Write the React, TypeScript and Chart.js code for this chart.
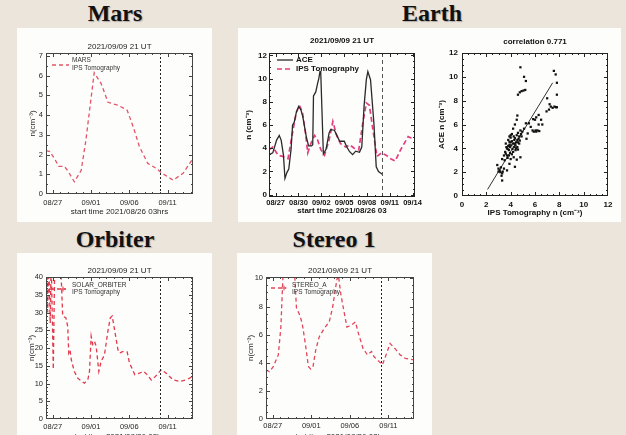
import React, { useEffect, useRef } from "react";
import { Chart, registerables } from "chart.js";
Chart.register(...registerables);

const SANS = "'Liberation Sans', Arial, sans-serif";

// ---------------- data (x = days since 2021/08/26 03 UT) ----------------
const marsDays = [0, 0.5, 1.1, 1.66, 2.4, 2.8, 3.7, 4.6, 5.2, 5.9, 6.3, 7.2, 8.1, 9.4, 10.6, 11.4, 12.2, 13.3, 14.4, 15.1, 16.6, 17.9, 19.2];
const marsN = [2.2, 2.15, 1.8, 1.4, 1.4, 1.2, 0.62, 1.2, 2.7, 4.9, 6.15, 5.6, 4.65, 4.5, 4.25, 3.4, 2.4, 1.55, 1.3, 1.07, 0.7, 1.05, 1.8];

const aceDays = [0, 0.5, 1.0, 1.35, 1.6, 1.9, 2.1, 2.35, 2.6, 2.9, 3.1, 3.3, 3.6, 3.9, 4.2, 4.45, 4.9, 5.2, 5.6, 5.75, 5.85, 6.15, 6.4, 6.55, 6.7, 6.8, 7.15, 7.5, 7.9, 8.1, 8.6, 9.0, 9.3, 9.9, 10.2, 10.6, 11.0, 11.4, 11.9, 12.2, 12.5, 12.8, 13.0, 13.35, 13.8, 14.1, 14.4, 14.9];
const aceN = [3.45, 3.6, 4.7, 5.1, 4.7, 3.4, 1.4, 1.9, 2.2, 3.9, 6.0, 6.2, 7.1, 7.6, 7.3, 6.7, 5.0, 4.2, 4.2, 4.3, 8.5, 8.85, 9.6, 10.0, 10.6, 10.6, 3.5, 3.9, 5.3, 5.6, 5.55, 5.0, 4.6, 4.6, 4.15, 3.7, 3.45, 3.75, 3.65, 4.1, 7.6, 9.9, 10.6, 9.9, 6.1, 2.4, 2.0, 1.75];

const earthIpsDays = [0, 0.5, 1.2, 1.8, 2.5, 3.0, 3.6, 4.0, 4.4, 4.8, 5.1, 5.5, 6.0, 6.4, 6.8, 7.3, 7.9, 8.4, 8.9, 9.4, 10.1, 10.6, 11.2, 11.8, 12.3, 12.8, 13.2, 13.8, 14.2, 14.8, 15.4, 16.0, 16.6, 17.3, 18.3, 19.2];
const earthIpsN = [3.86, 4.1, 3.4, 3.3, 3.1, 5.0, 7.1, 7.7, 7.1, 5.3, 3.6, 4.4, 5.1, 4.7, 3.9, 3.4, 4.7, 6.3, 5.1, 4.4, 4.1, 4.3, 4.0, 3.86, 6.0, 7.9, 7.7, 5.0, 3.3, 3.6, 3.4, 3.1, 2.9, 3.86, 5.0, 4.7];

const orbiterDays = [0, 0.08, 0.22, 0.35, 0.55, 0.68, 0.95, 1.15, 1.5, 1.95, 2.18, 2.6, 2.84, 2.97, 3.14, 3.3, 3.7, 4.15, 5.0, 5.46, 5.68, 5.9, 6.1, 6.33, 6.55, 6.9, 7.2, 7.64, 8.08, 8.4, 8.65, 8.95, 9.4, 9.6, 10.0, 10.6, 10.9, 11.6, 12.2, 12.75, 13.2, 13.75, 14.3, 15.07, 15.7, 16.6, 17.5, 18.3, 19.2];
const orbiterN = [28, 45, 30, 45, 27, 45, 14, 45, 50, 42, 29, 28.5, 26, 18.6, 19.5, 16.7, 13.4, 11.5, 10.1, 11, 13.4, 23.3, 21, 21.9, 20.5, 13.4, 16.2, 18.1, 24.7, 28.5, 29, 25.2, 19.5, 18.6, 19, 18.9, 15.8, 12.5, 12.9, 13.4, 12.5, 11, 12, 13.9, 12.9, 11, 10.6, 11, 12];

const stereoDays = [0, 0.44, 0.96, 1.6, 1.93, 2.2, 2.6, 3.2, 3.7, 3.95, 4.4, 4.7, 5.1, 5.5, 5.8, 6.1, 6.45, 6.9, 7.54, 8.2, 8.64, 9.2, 9.4, 9.7, 10.1, 10.5, 11.05, 11.6, 12.0, 12.6, 13.16, 13.7, 14.0, 14.65, 15.1, 15.5, 16.1, 16.75, 17.4, 18.07, 19.2];
const stereoN = [3.5, 3.36, 3.74, 4.56, 6.54, 10.2, 12.5, 12.6, 10.5, 7.9, 7.36, 6.78, 5.37, 3.74, 3.55, 3.74, 4.9, 5.84, 6.43, 6.9, 7.94, 9.93, 10.2, 8.9, 7.7, 6.54, 6.66, 6.9, 6.07, 5.0, 4.56, 4.8, 4.44, 4.1, 3.86, 4.44, 5.37, 5.0, 4.56, 4.32, 4.2];

const scatterIps = [4.8, 5.1, 5.25, 4.6, 4.75, 4.9, 5.05, 5.2, 7.55, 7.7, 7.8, 7.8, 7.45, 7.6, 7.72, 7.8, 7.15, 6.95, 7.0, 7.2, 7.3, 6.3, 6.5, 6.6, 6.3, 5.85, 6.0, 6.1, 5.5, 5.25, 5.8, 5.9, 6.05, 6.2, 5.65, 6.1, 6.35, 5.4, 5.3, 5.1, 4.95, 4.9, 4.7, 4.55, 4.4, 4.3, 4.5, 4.55, 4.35, 4.2, 4.0, 3.9, 3.8, 3.6, 3.65, 3.75, 3.85, 3.95, 4.05, 4.15, 4.2, 4.3, 4.4, 4.55, 4.7, 4.75, 3.6, 3.45, 3.55, 3.7, 3.85, 3.3, 4.0, 4.25, 4.5, 3.9, 4.0, 4.1, 3.8, 3.7, 4.2, 4.3, 4.45, 4.6, 4.65, 4.1, 4.0, 3.9, 4.25, 4.35, 4.5, 4.6, 4.8, 4.85, 3.95, 4.1, 3.75, 3.5, 4.45, 4.6, 3.0, 3.0, 3.15, 3.3, 3.25, 3.3, 2.9, 3.1, 3.7, 4.35, 4.8, 3.9, 3.2, 3.35, 3.45];
const scatterAce = [10.8, 10.0, 9.65, 8.5, 8.7, 8.8, 8.85, 8.9, 10.5, 10.2, 9.5, 8.5, 7.4, 7.5, 7.45, 7.45, 7.25, 7.1, 8.2, 7.7, 7.5, 6.8, 6.4, 6.0, 6.0, 6.45, 6.4, 6.6, 6.1, 6.1, 5.5, 5.4, 5.5, 5.5, 5.8, 5.4, 5.45, 5.25, 4.8, 5.65, 5.4, 5.0, 5.0, 4.7, 4.25, 4.4, 6.4, 6.75, 6.0, 5.65, 5.1, 5.0, 4.7, 4.4, 4.1, 3.95, 3.85, 4.1, 4.25, 3.95, 3.7, 4.1, 3.85, 4.1, 4.4, 4.65, 3.55, 3.4, 3.7, 3.4, 3.4, 3.1, 3.1, 3.25, 3.05, 4.3, 4.5, 4.6, 4.2, 4.0, 4.4, 4.7, 4.5, 4.5, 4.8, 5.2, 4.9, 4.55, 5.0, 4.85, 5.1, 5.3, 5.5, 5.2, 3.6, 3.5, 3.2, 3.0, 4.0, 3.9, 2.3, 2.05, 2.0, 1.9, 1.7, 1.3, 2.6, 2.15, 2.15, 2.45, 3.25, 2.7, 2.4, 2.05, 2.3];
const fitIps = [2.1, 7.45];
const fitAce = [0.55, 9.5];

const tickDays5 = [0.875, 5.875, 10.875, 15.875];
const tickLabels5 = ["08/27", "09/01", "09/06", "09/11"];
const earthTickDays = [0.875, 3.875, 6.875, 9.875, 12.875, 15.875, 18.875];
const earthTickLabels = ["08/27", "08/30", "09/02", "09/05", "09/08", "09/11", "09/14"];
const marsYTicks = [0, 1, 2, 3, 4, 5, 6, 7];
const earthYTicks = [0, 2, 4, 6, 8, 10, 12];
const orbiterYTicks = [0, 5, 10, 15, 20, 25, 30, 35, 40];
const stereoYTicks = [0, 2, 4, 6, 8, 10];
const scatterTicks = [0, 2, 4, 6, 8, 10, 12];
const snapshotDay = 14.9;
const snapshotTitle = "2021/09/09 21 UT";

const pts = (xs: number[], ys: number[]) => xs.map((x, i) => ({ x, y: ys[i] }));
const range = (a: number, b: number, s: number) => {
  const out: number[] = [];
  for (let v = a; v <= b + 1e-9; v += s) out.push(+v.toFixed(4));
  return out;
};

type Panel = { x: number; y: number; w: number; h: number };
type Plot = { l: number; t: number; r: number; b: number };

function framePlugin(f: any) {
  return {
    id: "frame",
    afterDraw(chart: any) {
      const { ctx, chartArea: a } = chart;
      const xs = chart.scales.x, ys = chart.scales.y;
      ctx.save();
      if (f.vline != null) {
        const px = Math.round(xs.getPixelForValue(f.vline)) + 0.5;
        ctx.strokeStyle = f.vlineColor;
        ctx.lineWidth = 1;
        ctx.setLineDash(f.vlineDash);
        ctx.beginPath();
        ctx.moveTo(px, a.top);
        ctx.lineTo(px, a.bottom);
        ctx.stroke();
      }
      ctx.setLineDash([]);
      ctx.strokeStyle = f.frameColor;
      ctx.lineWidth = 1;
      ctx.strokeRect(a.left + 0.5, a.top + 0.5, a.right - a.left - 1, a.bottom - a.top - 1);
      ctx.beginPath();
      const xt = (vals: number[], len: number) =>
        vals.forEach((v) => {
          const p = Math.round(xs.getPixelForValue(v)) + 0.5;
          if (p < a.left || p > a.right) return;
          ctx.moveTo(p, a.bottom);
          ctx.lineTo(p, a.bottom - len);
          ctx.moveTo(p, a.top);
          ctx.lineTo(p, a.top + len);
        });
      const yt = (vals: number[], len: number) =>
        vals.forEach((v) => {
          const p = Math.round(ys.getPixelForValue(v)) + 0.5;
          if (p < a.top || p > a.bottom) return;
          ctx.moveTo(a.left, p);
          ctx.lineTo(a.left + len, p);
          ctx.moveTo(a.right, p);
          ctx.lineTo(a.right - len, p);
        });
      xt(f.xMajor, 4);
      xt(f.xMinor, 2);
      yt(f.yMajor, 4);
      yt(f.yMinor, 2);
      ctx.stroke();
      // title
      ctx.fillStyle = f.textColor;
      ctx.font = f.titleFont;
      ctx.textAlign = "center";
      ctx.textBaseline = "middle";
      ctx.fillText(f.title, (a.left + a.right) / 2 + (f.titleDx || 0), a.top - f.titleGap);
      // legend
      const lg = f.legend;
      lg.samples.forEach((s: any) => {
        ctx.strokeStyle = s.color;
        ctx.lineWidth = s.width;
        ctx.setLineDash(s.dash);
        ctx.beginPath();
        ctx.moveTo(a.left + s.x0, a.top + s.dy);
        ctx.lineTo(a.left + s.x1, a.top + s.dy);
        ctx.stroke();
        if (s.plus != null) {
          ctx.setLineDash([]);
          ctx.lineWidth = 1;
          ctx.beginPath();
          ctx.moveTo(a.left + s.plus - 2.5, a.top + s.dy);
          ctx.lineTo(a.left + s.plus + 2.5, a.top + s.dy);
          ctx.moveTo(a.left + s.plus, a.top + s.dy - 2.5);
          ctx.lineTo(a.left + s.plus, a.top + s.dy + 2.5);
          ctx.stroke();
        }
      });
      ctx.setLineDash([]);
      ctx.font = lg.font;
      ctx.textAlign = "left";
      ctx.textBaseline = "middle";
      ctx.fillStyle = lg.color;
      lg.texts.forEach((t: any) => ctx.fillText(t.text, a.left + lg.x, a.top + t.dy));
      ctx.restore();
    },
  };
}

function buildChart(canvas: HTMLCanvasElement, s: any) {
  const { panel, plot } = s as { panel: Panel; plot: Plot };
  const yW = plot.l - panel.x;
  const xH = panel.y + panel.h - plot.b;
  const weight = s.bold ? "bold" : "normal";
  const xTickFont = { family: SANS, size: s.xFontSize || s.fontSize, weight };
  const yTickFont = { family: SANS, size: s.fontSize, weight };
  const titleFont = { family: SANS, size: s.titleSize || 8, weight };
  return new Chart(canvas, {
    type: s.type || "line",
    data: { datasets: s.datasets },
    options: {
      responsive: false,
      maintainAspectRatio: false,
      animation: false,
      events: [],
      layout: { padding: { left: 0, top: plot.t - panel.y, right: panel.x + panel.w - plot.r, bottom: 0 } },
      plugins: { legend: { display: false }, tooltip: { enabled: false }, title: { display: false } },
      scales: {
        x: {
          type: "linear",
          min: s.xMin,
          max: s.xMax,
          grid: { display: false, drawTicks: false, tickLength: 0 },
          border: { display: false },
          afterBuildTicks: (sc: any) => {
            sc.ticks = s.xTicks.map((v: number) => ({ value: v }));
          },
          ticks: {
            autoSkip: false,
            maxRotation: 0,
            minRotation: 0,
            padding: s.xTickPad,
            font: xTickFont,
            color: s.textColor,
            callback: (_v: any, i: number) => s.xLabels[i],
          },
          title: { display: true, text: s.xTitle, font: titleFont, color: s.textColor, padding: { top: 0, bottom: s.xTitlePad } },
          afterFit: (sc: any) => {
            sc.height = xH;
            sc.paddingLeft = 0;
            sc.paddingRight = 0;
            sc.paddingTop = 0;
            sc.paddingBottom = 0;
          },
        },
        y: {
          type: "linear",
          position: "left",
          min: s.yMin,
          max: s.yMax,
          grid: { display: false, drawTicks: false, tickLength: 0 },
          border: { display: false },
          afterBuildTicks: (sc: any) => {
            sc.ticks = s.yTicks.map((v: number) => ({ value: v }));
          },
          ticks: {
            autoSkip: false,
            padding: s.yTickPad,
            font: yTickFont,
            color: s.textColor,
            callback: (v: any) => String(v),
          },
          title: { display: true, text: s.yTitle, font: titleFont, color: s.textColor, padding: { top: s.yTitlePad, bottom: 0 } },
          afterFit: (sc: any) => {
            sc.width = yW;
            sc.paddingLeft = 0;
            sc.paddingRight = 0;
            sc.paddingTop = 0;
            sc.paddingBottom = 0;
          },
        },
      },
    } as any,
    plugins: [framePlugin(s.frame)],
  } as any);
}

const dashed = (data: any, color: string, width: number, dash: number[]) => ({
  data,
  borderColor: color,
  borderWidth: width,
  borderDash: dash,
  pointRadius: 0,
  tension: 0,
  fill: false,
});

const THIN = { textColor: "#262626", fontSize: 7.5, bold: false };

const specs: any[] = [
  {
    key: "mars",
    panel: { x: 17, y: 28, w: 195, h: 194 },
    plot: { l: 46, t: 53, r: 193, b: 194 },
    ...THIN,
    xMin: 0, xMax: 19.2, yMin: 0, yMax: 7.15,
    xTicks: tickDays5, xLabels: tickLabels5, yTicks: marsYTicks,
    xTitle: "start time 2021/08/26 03hrs", yTitle: "n(cm\u207B\u00B3)",
    xTickPad: 4, yTickPad: 3, xTitlePad: 5, yTitlePad: 11,
    datasets: [dashed(pts(marsDays, marsN), "#e25468", 1.3, [4, 3])],
    frame: {
      vline: snapshotDay, vlineColor: "#222", vlineDash: [2, 2], frameColor: "#444",
      xMajor: tickDays5, xMinor: range(0.875, 19.2, 1), yMajor: marsYTicks, yMinor: range(0.5, 7, 1),
      title: snapshotTitle, titleGap: 6, titleFont: `8px ${SANS}`, textColor: "#1e1e1e",
      legend: {
        font: `6.5px ${SANS}`, color: "#333", x: 26,
        texts: [{ text: "MARS", dy: 7 }, { text: "IPS Tomography", dy: 15 }],
        samples: [{ color: "#e25468", width: 1.3, dash: [4, 3], x0: 6, x1: 23, dy: 12 }],
      },
    },
  },
  {
    key: "earth",
    panel: { x: 238, y: 28, w: 192, h: 194 },
    plot: { l: 269, t: 53, r: 415, b: 197 },
    textColor: "#111", fontSize: 8, xFontSize: 7.5, bold: true, titleSize: 8,
    xMin: 0, xMax: 19.2, yMin: -0.2, yMax: 12.2,
    xTicks: earthTickDays, xLabels: earthTickLabels, yTicks: earthYTicks,
    xTitle: "start time 2021/08/26 03", yTitle: "n (cm\u207B\u00B3)",
    xTickPad: 1, yTickPad: 2, xTitlePad: 6, yTitlePad: 5.5,
    datasets: [
      { data: pts(aceDays, aceN), borderColor: "#2a2a2a", borderWidth: 1.3, pointRadius: 0, tension: 0, fill: false },
      dashed(pts(earthIpsDays, earthIpsN), "#e23f80", 1.7, [5, 3]),
    ],
    frame: {
      vline: snapshotDay, vlineColor: "#555", vlineDash: [4, 3], frameColor: "#222",
      xMajor: earthTickDays, xMinor: range(0.875, 19.2, 1), yMajor: earthYTicks, yMinor: range(0, 12, 0.5),
      title: snapshotTitle, titleGap: 12, titleFont: `bold 8px ${SANS}`, textColor: "#111",
      legend: {
        font: `bold 8px ${SANS}`, color: "#111", x: 27,
        texts: [{ text: "ACE", dy: 7 }, { text: "IPS Tomography", dy: 16 }],
        samples: [
          { color: "#2a2a2a", width: 1.3, dash: [], x0: 8, x1: 24, dy: 7 },
          { color: "#e23f80", width: 1.7, dash: [5, 3], x0: 8, x1: 24, dy: 16 },
        ],
      },
    },
  },
  {
    key: "scatter",
    type: "scatter",
    panel: { x: 430, y: 28, w: 191, h: 194 },
    plot: { l: 462, t: 53, r: 608, b: 196 },
    textColor: "#111", fontSize: 8, bold: true, titleSize: 8,
    xMin: 0, xMax: 12, yMin: 0, yMax: 12,
    xTicks: scatterTicks, xLabels: scatterTicks.map(String), yTicks: scatterTicks,
    xTitle: "IPS Tomography n (cm\u207B\u00B3)", yTitle: "ACE n (cm\u207B\u00B3)",
    xTickPad: 4, yTickPad: 4, xTitlePad: 4.5, yTitlePad: 7,
    datasets: [
      { data: pts(scatterIps, scatterAce), pointStyle: "rect", pointRadius: 1.6, backgroundColor: "#111", borderWidth: 0 },
      { type: "line", data: pts(fitIps, fitAce), borderColor: "#333", borderWidth: 1, pointRadius: 0, showLine: true },
    ],
    frame: {
      vline: null, frameColor: "#222",
      xMajor: scatterTicks, xMinor: range(0, 12, 0.5), yMajor: scatterTicks, yMinor: range(0, 12, 0.5),
      title: "correlation 0.771", titleGap: 11, titleFont: `bold 8px ${SANS}`, textColor: "#111",
      legend: { font: `8px ${SANS}`, color: "#111", x: 0, texts: [], samples: [] },
    },
  },
  {
    key: "orbiter",
    panel: { x: 17, y: 253, w: 195, h: 194 },
    plot: { l: 46, t: 277, r: 193, b: 419 },
    ...THIN,
    xMin: 0, xMax: 19.2, yMin: 0, yMax: 40,
    xTicks: tickDays5, xLabels: tickLabels5, yTicks: orbiterYTicks,
    xTitle: "start time 2021/08/26 03hrs", yTitle: "n(cm\u207B\u00B3)",
    xTickPad: 3, yTickPad: 3, xTitlePad: 5, yTitlePad: 10,
    datasets: [dashed(pts(orbiterDays, orbiterN), "#e2394b", 1.3, [4, 3])],
    frame: {
      vline: snapshotDay, vlineColor: "#222", vlineDash: [2, 2], frameColor: "#444",
      xMajor: tickDays5, xMinor: range(0.875, 19.2, 1), yMajor: orbiterYTicks, yMinor: range(0, 40, 1),
      title: snapshotTitle, titleGap: 6, titleFont: `8px ${SANS}`, textColor: "#1e1e1e",
      legend: {
        font: `6.5px ${SANS}`, color: "#333", x: 26,
        texts: [{ text: "SOLAR_ORBITER", dy: 8 }, { text: "IPS Tomography", dy: 15 }],
        samples: [{ color: "#e2394b", width: 1.3, dash: [4, 3], x0: 4, x1: 20, dy: 12, plus: 17 }],
      },
    },
  },
  {
    key: "stereo",
    panel: { x: 237, y: 253, w: 195, h: 194 },
    plot: { l: 266, t: 277, r: 414, b: 419 },
    ...THIN,
    xMin: 0, xMax: 19.2, yMin: 0, yMax: 10.1,
    xTicks: tickDays5, xLabels: tickLabels5, yTicks: stereoYTicks,
    xTitle: "start time 2021/08/26 03hrs", yTitle: "n(cm\u207B\u00B3)",
    xTickPad: 2, yTickPad: 3, xTitlePad: 5, yTitlePad: 9,
    datasets: [dashed(pts(stereoDays, stereoN), "#e2465a", 1.3, [4, 3])],
    frame: {
      vline: snapshotDay, vlineColor: "#222", vlineDash: [2, 2], frameColor: "#444",
      xMajor: tickDays5, xMinor: range(0.875, 19.2, 1), yMajor: stereoYTicks, yMinor: range(0, 10, 0.5),
      title: snapshotTitle, titleGap: 6, titleFont: `8px ${SANS}`, textColor: "#1e1e1e",
      legend: {
        font: `6.5px ${SANS}`, color: "#333", x: 26,
        texts: [{ text: "STEREO_A", dy: 8 }, { text: "IPS Tomography", dy: 15 }],
        samples: [{ color: "#e2465a", width: 1.3, dash: [4, 3], x0: 5, x1: 20, dy: 11, plus: 18 }],
      },
    },
  },
];

const headings = [
  { text: "Mars", cx: 115, base: 21 },
  { text: "Earth", cx: 432, base: 21 },
  { text: "Orbiter", cx: 115, base: 247 },
  { text: "Stereo 1", cx: 334, base: 247 },
];

export default function App() {
  const refs = useRef<(HTMLCanvasElement | null)[]>([]);
  useEffect(() => {
    const charts = specs.map((s, i) => buildChart(refs.current[i] as HTMLCanvasElement, s));
    return () => charts.forEach((c) => c.destroy());
  }, []);
  return (
    <div
      style={{
        position: "fixed",
        left: 0,
        top: 0,
        width: 626,
        height: 435,
        overflow: "hidden",
        background: "#ebe5dc",
      }}
    >
      {headings.map((h) => (
        <div
          key={h.text}
          style={{
            position: "absolute",
            left: h.cx - 100,
            width: 200,
            top: h.base - 20,
            textAlign: "center",
            fontFamily: "'Liberation Serif', 'Times New Roman', serif",
            fontWeight: "bold",
            fontSize: 24,
            lineHeight: "24px",
            color: "#111",
            textShadow: "1px 1px 1px rgba(0,0,0,0.25)",
            whiteSpace: "nowrap",
          }}
        >
          {h.text}
        </div>
      ))}
      {specs.map((s, i) => (
        <canvas
          key={s.key}
          ref={(el) => {
            refs.current[i] = el;
          }}
          width={s.panel.w}
          height={s.panel.h}
          style={{
            position: "absolute",
            left: s.panel.x,
            top: s.panel.y,
            width: s.panel.w,
            height: s.panel.h,
            background: "#fdfdfc",
          }}
        />
      ))}
    </div>
  );
}
